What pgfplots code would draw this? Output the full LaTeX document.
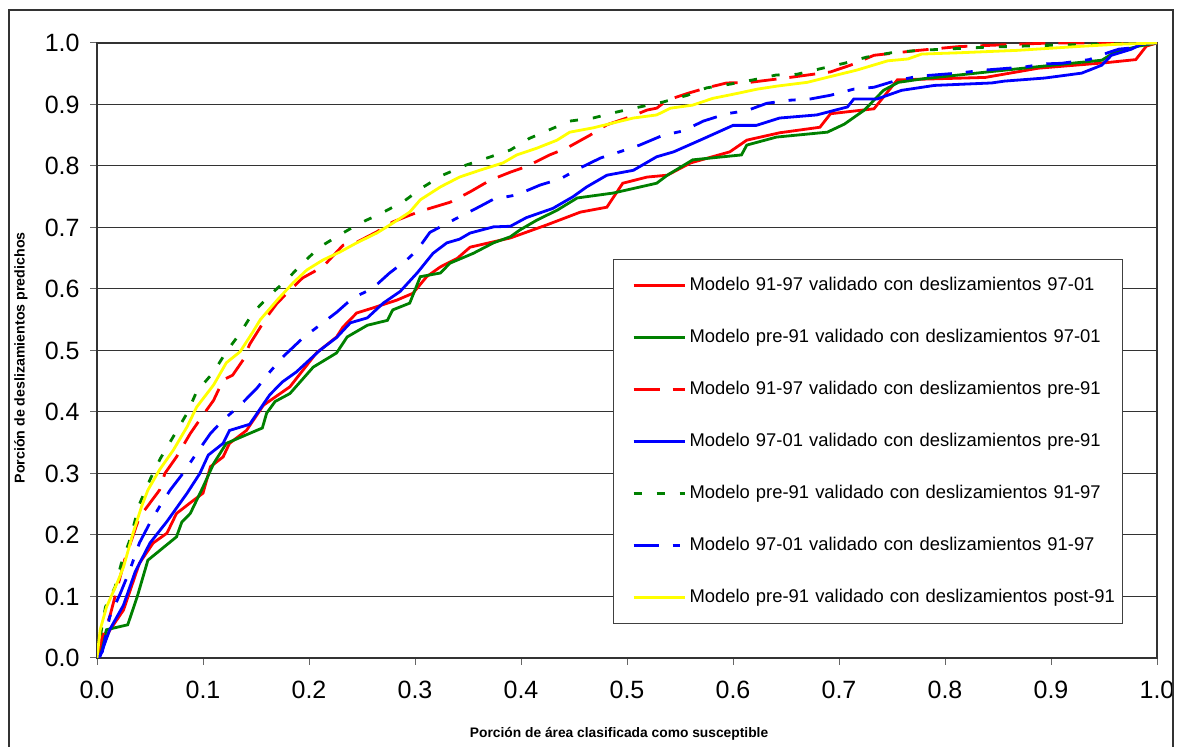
\documentclass[border=0pt]{standalone}
\usepackage{fontspec}
\setmainfont{Liberation Sans}
\usepackage{pgfplots}
\pgfplotsset{compat=1.18}
\usetikzlibrary{calc}
\definecolor{xlred}{RGB}{255,0,0}
\definecolor{xlgreen}{RGB}{0,128,0}
\definecolor{xlblue}{RGB}{0,0,255}
\definecolor{xlyellow}{RGB}{255,255,0}
\begin{document}
\begin{tikzpicture}
\begin{axis}[
  name=ax, scale only axis, width=530pt, height=307.5pt,
  xmin=0, xmax=1, ymin=0, ymax=1,
  xtick={0,0.1,0.2,0.3,0.4,0.5,0.6,0.7,0.8,0.9,1},
  ytick={0,0.1,0.2,0.3,0.4,0.5,0.6,0.7,0.8,0.9,1},
  xticklabels={0.0,0.1,0.2,0.3,0.4,0.5,0.6,0.7,0.8,0.9,1.0},
  yticklabels={0.0,0.1,0.2,0.3,0.4,0.5,0.6,0.7,0.8,0.9,1.0},
  tick align=outside, major tick length=3.5pt, tick pos=left,
  every tick/.style={black!60, line width=0.5pt},
  ymajorgrids, major grid style={black!80, line width=0.5pt},
  axis line style={black!80, line width=0.6pt},
  tick label style={font=\fontsize{12.5}{15}\selectfont},
  xticklabel style={anchor=north, inner sep=0pt, yshift=-8pt},
  yticklabel style={anchor=east, inner sep=0pt, xshift=-5pt},
  xlabel={Porción de área clasificada como susceptible},
  ylabel={Porción de deslizamientos predichos},
  label style={font=\bfseries\fontsize{6.9}{8}\selectfont},
  xlabel style={at={(axis description cs:0.4925,-0.1229)}, anchor=center},
  ylabel style={at={(axis description cs:-0.0717,0.488)}, anchor=center, font=\bfseries\fontsize{7.1}{8}\selectfont},
  legend style={at={(axis cs:0.4868,0.6488)}, anchor=north west,
    draw=black!75, line width=0.5pt, fill=white,
    inner xsep=0pt, inner ysep=0pt, row sep=0pt, column sep=0pt,
    font=\fontsize{9.2}{11}\selectfont,
    nodes={minimum height=26pt, inner sep=0pt, text width=216.5pt, align=left, anchor=west}},
  legend cell align=left,
  legend image code/.code={\path[draw=none] (0pt,0pt) -- (38pt,0pt); \draw[#1] (10pt,0pt) -- (35.5pt,0pt);},
  every axis plot/.append style={line width=1.4pt, no markers},
]
\addplot[xlred] coordinates {(0,0) (0.005,0.02) (0.012,0.045) (0.025,0.078) (0.04,0.154) (0.053,0.187) (0.066,0.203) (0.075,0.235) (0.09,0.255) (0.1,0.268) (0.107,0.311) (0.119,0.327) (0.125,0.349) (0.141,0.37) (0.157,0.411) (0.182,0.441) (0.207,0.496) (0.226,0.522) (0.232,0.538) (0.245,0.561) (0.26,0.569) (0.283,0.582) (0.298,0.593) (0.311,0.62) (0.324,0.636) (0.34,0.65) (0.352,0.668) (0.39,0.683) (0.424,0.704) (0.456,0.725) (0.481,0.733) (0.496,0.772) (0.519,0.782) (0.538,0.785) (0.56,0.805) (0.597,0.823) (0.613,0.842) (0.644,0.854) (0.682,0.863) (0.692,0.885) (0.733,0.893) (0.755,0.94) (0.838,0.944) (0.888,0.959) (0.952,0.968) (0.98,0.973) (0.99,0.995) (1,1)};
\addlegendentry{Modelo 91-97 validado con deslizamientos 97-01}
\addplot[xlgreen] coordinates {(0,0) (0.003,0.013) (0.009,0.046) (0.029,0.054) (0.038,0.1) (0.048,0.159) (0.075,0.197) (0.08,0.221) (0.088,0.235) (0.1,0.278) (0.11,0.316) (0.122,0.349) (0.156,0.374) (0.16,0.398) (0.168,0.417) (0.182,0.43) (0.204,0.473) (0.226,0.496) (0.236,0.522) (0.255,0.541) (0.274,0.549) (0.279,0.566) (0.295,0.577) (0.305,0.62) (0.324,0.626) (0.333,0.642) (0.355,0.658) (0.374,0.675) (0.39,0.685) (0.399,0.696) (0.415,0.712) (0.434,0.728) (0.453,0.748) (0.487,0.756) (0.528,0.772) (0.538,0.785) (0.562,0.81) (0.608,0.818) (0.613,0.834) (0.641,0.847) (0.689,0.855) (0.705,0.868) (0.724,0.891) (0.742,0.923) (0.756,0.936) (0.78,0.942) (0.885,0.961) (0.948,0.972) (0.96,0.985) (0.983,0.995) (1,1)};
\addlegendentry{Modelo pre-91 validado con deslizamientos 97-01}
\addplot[xlred, dash pattern=on 13pt off 6.5pt] coordinates {(0,0) (0.005,0.035) (0.012,0.067) (0.026,0.159) (0.04,0.229) (0.059,0.273) (0.064,0.3) (0.075,0.327) (0.088,0.365) (0.1,0.395) (0.11,0.419) (0.119,0.452) (0.128,0.46) (0.138,0.485) (0.144,0.51) (0.16,0.554) (0.17,0.577) (0.182,0.598) (0.194,0.618) (0.213,0.636) (0.232,0.671) (0.245,0.676) (0.264,0.693) (0.279,0.709) (0.295,0.72) (0.308,0.728) (0.333,0.741) (0.352,0.758) (0.371,0.777) (0.39,0.79) (0.405,0.799) (0.427,0.818) (0.443,0.829) (0.465,0.85) (0.481,0.867) (0.503,0.88) (0.519,0.891) (0.528,0.894) (0.538,0.907) (0.557,0.918) (0.575,0.927) (0.594,0.935) (0.616,0.936) (0.635,0.94) (0.658,0.945) (0.692,0.953) (0.711,0.964) (0.733,0.98) (0.775,0.988) (0.812,0.994) (0.868,0.998) (0.9,1) (1,1)};
\addlegendentry{Modelo 91-97 validado con deslizamientos pre-91}
\addplot[xlblue] coordinates {(0,0) (0.003,0.003) (0.012,0.046) (0.025,0.086) (0.036,0.14) (0.05,0.187) (0.066,0.222) (0.085,0.268) (0.097,0.3) (0.105,0.33) (0.119,0.349) (0.125,0.37) (0.144,0.38) (0.163,0.428) (0.175,0.449) (0.188,0.465) (0.21,0.5) (0.226,0.521) (0.239,0.545) (0.255,0.553) (0.27,0.577) (0.286,0.596) (0.302,0.626) (0.317,0.658) (0.33,0.675) (0.342,0.681) (0.352,0.691) (0.374,0.701) (0.39,0.702) (0.405,0.716) (0.43,0.731) (0.449,0.75) (0.462,0.766) (0.481,0.785) (0.506,0.793) (0.528,0.815) (0.544,0.823) (0.569,0.842) (0.6,0.866) (0.622,0.866) (0.644,0.878) (0.679,0.883) (0.708,0.896) (0.714,0.909) (0.736,0.909) (0.759,0.923) (0.79,0.931) (0.844,0.935) (0.856,0.938) (0.894,0.943) (0.929,0.951) (0.948,0.964) (0.957,0.98) (0.976,0.99) (0.985,0.998) (1,1)};
\addlegendentry{Modelo 97-01 validado con deslizamientos pre-91}
\addplot[xlgreen, dash pattern=on 4pt off 7.5pt] coordinates {(0,0) (0.003,0.034) (0.008,0.083) (0.017,0.115) (0.023,0.154) (0.031,0.192) (0.04,0.25) (0.05,0.29) (0.06,0.325) (0.072,0.36) (0.085,0.398) (0.094,0.433) (0.11,0.465) (0.122,0.498) (0.135,0.528) (0.147,0.561) (0.163,0.59) (0.179,0.615) (0.194,0.642) (0.21,0.668) (0.229,0.688) (0.248,0.707) (0.267,0.722) (0.289,0.742) (0.308,0.766) (0.326,0.785) (0.349,0.802) (0.368,0.813) (0.39,0.826) (0.408,0.845) (0.427,0.859) (0.446,0.873) (0.468,0.878) (0.491,0.888) (0.512,0.896) (0.534,0.904) (0.557,0.915) (0.575,0.927) (0.597,0.933) (0.619,0.94) (0.641,0.948) (0.66,0.949) (0.682,0.958) (0.705,0.967) (0.726,0.977) (0.749,0.984) (0.775,0.988) (0.812,0.991) (0.837,0.993) (0.875,0.995) (0.915,0.997) (1,1)};
\addlegendentry{Modelo pre-91 validado con deslizamientos 91-97}
\addplot[xlblue, dash pattern=on 12.5pt off 7pt on 3.5pt off 7pt] coordinates {(0,0) (0.005,0.01) (0.012,0.067) (0.022,0.105) (0.031,0.143) (0.04,0.187) (0.05,0.22) (0.059,0.246) (0.069,0.273) (0.081,0.3) (0.094,0.333) (0.107,0.365) (0.119,0.387) (0.135,0.411) (0.151,0.439) (0.163,0.465) (0.175,0.489) (0.194,0.52) (0.213,0.545) (0.226,0.562) (0.241,0.585) (0.26,0.601) (0.276,0.626) (0.292,0.647) (0.302,0.663) (0.314,0.692) (0.336,0.712) (0.361,0.734) (0.374,0.746) (0.396,0.753) (0.418,0.769) (0.437,0.779) (0.456,0.797) (0.475,0.813) (0.493,0.823) (0.512,0.834) (0.534,0.85) (0.553,0.857) (0.572,0.873) (0.594,0.885) (0.613,0.89) (0.632,0.902) (0.654,0.907) (0.673,0.909) (0.692,0.915) (0.714,0.925) (0.733,0.928) (0.752,0.938) (0.775,0.946) (0.812,0.951) (0.838,0.956) (0.875,0.961) (0.894,0.966) (0.91,0.967) (0.936,0.973) (0.955,0.985) (0.964,0.99) (0.976,0.992) (0.99,1) (1,1)};
\addlegendentry{Modelo 97-01 validado con deslizamientos 91-97}
\addplot[xlyellow] coordinates {(0,0) (0.003,0.046) (0.009,0.083) (0.019,0.122) (0.025,0.148) (0.034,0.203) (0.042,0.246) (0.048,0.273) (0.059,0.306) (0.072,0.338) (0.085,0.376) (0.094,0.408) (0.11,0.444) (0.122,0.48) (0.135,0.498) (0.147,0.53) (0.154,0.55) (0.17,0.582) (0.185,0.61) (0.198,0.631) (0.213,0.647) (0.229,0.66) (0.245,0.675) (0.264,0.691) (0.279,0.707) (0.295,0.725) (0.305,0.745) (0.324,0.766) (0.342,0.782) (0.361,0.793) (0.383,0.805) (0.396,0.818) (0.415,0.829) (0.434,0.842) (0.446,0.855) (0.468,0.862) (0.487,0.87) (0.506,0.878) (0.528,0.883) (0.541,0.894) (0.562,0.899) (0.581,0.91) (0.604,0.918) (0.623,0.925) (0.642,0.93) (0.67,0.936) (0.698,0.948) (0.717,0.956) (0.746,0.971) (0.765,0.974) (0.778,0.982) (0.812,0.984) (0.868,0.988) (0.932,0.995) (0.964,0.998) (1,1)};
\addlegendentry{Modelo pre-91 validado con deslizamientos post-91}
\end{axis}
\useasboundingbox ($(ax.south west)+(-48.5pt,-42pt)$) rectangle ($(ax.south west)+(540pt,329pt)$);
\draw[black!80, line width=0.6pt] ($(ax.south west)+(-44pt,-46pt)$) -- ($(ax.south west)+(-44pt,324pt)$) -- ($(ax.south west)+(538pt,324pt)$) -- ($(ax.south west)+(538pt,-46pt)$);
\end{tikzpicture}
\end{document}
